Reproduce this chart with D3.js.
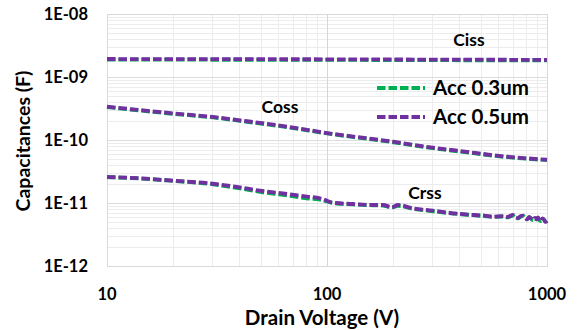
<!DOCTYPE html>
<html>
<head>
<meta charset="utf-8">
<script src="https://cdn.jsdelivr.net/npm/d3@7"></script>
<style>
  body { margin: 0; background: #fff; }
  text { font-family: Lato, "Open Sans", sans-serif; font-weight: bold; fill: #000; }
</style>
</head>
<body>
<div id="chart"></div>
<script>
// drain voltage points (V) for each curve
var cissV = [10, 30, 100, 300, 1000];
var ciss03 = [1.89e-9, 1.88e-9, 1.87e-9, 1.85e-9, 1.83e-9];
var ciss05 = [1.93e-9, 1.92e-9, 1.91e-9, 1.89e-9, 1.87e-9];

var cossV = [10, 20, 30.3, 40.2, 65.8, 100, 200, 303, 402, 658, 1000];
var coss03 = [3.33e-10, 2.6e-10, 2.28e-10, 2.01e-10, 1.6e-10, 1.27e-10, 9.2e-11, 7.4e-11, 6.55e-11, 5.35e-11, 4.8e-11];
var coss05 = [3.38e-10, 2.65e-10, 2.32e-10, 2.05e-10, 1.63e-10, 1.29e-10, 9.4e-11, 7.55e-11, 6.69e-11, 5.43e-11, 4.87e-11];

var crssV = [10, 14.1, 20, 30.3, 40.2, 49.6, 65.8, 81.1, 92.9, 106.5, 131, 162, 180, 197, 210, 246, 303, 374, 461, 520, 569, 631, 660, 700, 720, 740, 760, 780, 800, 811, 830, 850, 865, 880, 895, 910, 925, 940, 955, 970, 985, 1000];
var crss03 = [2.57e-11, 2.45e-11, 2.24e-11, 1.98e-11, 1.7e-11, 1.5e-11, 1.32e-11, 1.18e-11, 1.13e-11, 1.0e-11, 9.5e-12, 9.2e-12, 9.1e-12, 8.5e-12, 9.0e-12, 8.1e-12, 7.4e-12, 6.8e-12, 6.4e-12, 6.2e-12, 6.0e-12, 6.1e-12, 5.9e-12, 6.3e-12, 5.8e-12, 5.7e-12, 6.1e-12, 6.2e-12, 5.6e-12, 5.5e-12, 5.9e-12, 5.6e-12, 5.3e-12, 5.7e-12, 5.5e-12, 5.8e-12, 5.3e-12, 5.2e-12, 5.6e-12, 5.4e-12, 5.1e-12, 5.2e-12];
var crss05 = [2.59e-11, 2.47e-11, 2.26e-11, 2.02e-11, 1.77e-11, 1.57e-11, 1.39e-11, 1.26e-11, 1.19e-11, 1.01e-11, 9.64e-12, 9.3e-12, 9.3e-12, 8.55e-12, 9.3e-12, 8.24e-12, 7.55e-12, 6.87e-12, 6.45e-12, 6.3e-12, 6.06e-12, 6.2e-12, 6.0e-12, 6.45e-12, 5.9e-12, 5.8e-12, 6.2e-12, 6.3e-12, 5.7e-12, 5.5e-12, 6.0e-12, 5.6e-12, 5.4e-12, 5.8e-12, 5.5e-12, 5.9e-12, 5.3e-12, 5.2e-12, 5.7e-12, 5.4e-12, 5.0e-12, 5.24e-12];

var xTicks = [10, 100, 1000];
var yTicks = [1e-12, 1e-11, 1e-10, 1e-9, 1e-8];
var yTickLabels = ["1E-12", "1E-11", "1E-10", "1E-09", "1E-08"];
var seriesNames = ["Acc 0.3um", "Acc 0.5um"];
var seriesColors = ["#00b050", "#7030a0"];
var curveNames = ["Ciss", "Coss", "Crss"];

var W = 579, H = 330;
var margin = {left: 107, top: 14, right: 32, bottom: 64};
var w = W - margin.left - margin.right,
    h = H - margin.top - margin.bottom;

var svg = d3.select("#chart").append("svg")
  .attr("width", W).attr("height", H);

var x = d3.scaleLog().domain([10, 1000]).range([0, w]);
var y = d3.scaleLog().domain([1e-12, 1e-8]).range([h, 0]);

var g = svg.append("g").attr("transform", "translate(" + margin.left + "," + margin.top + ")");

//minor grid values
function minorVals(lo, hi) {
  var out = [];
  for (var d = lo; d < hi; d *= 10) {
    for (var k = 2; k <= 9; k++) out.push(d * k);
  }
  return out;
}

g.selectAll(".hminor").data(minorVals(1e-12, 1e-8)).enter().append("line")
  .attr("x1", 0).attr("x2", w)
  .attr("y1", function(d){ return Math.round(y(d)) + 0.5; })
  .attr("y2", function(d){ return Math.round(y(d)) + 0.5; })
  .attr("stroke", "#ececec").attr("stroke-width", 1);

g.selectAll(".vminor").data(minorVals(10, 1000)).enter().append("line")
  .attr("y1", 0).attr("y2", h)
  .attr("x1", function(d){ return Math.round(x(d)) + 0.5; })
  .attr("x2", function(d){ return Math.round(x(d)) + 0.5; })
  .attr("stroke", "#ececec").attr("stroke-width", 1);

g.selectAll(".hmajor").data(yTicks).enter().append("line")
  .attr("x1", 0).attr("x2", w)
  .attr("y1", function(d){ return Math.round(y(d)) + 0.5; })
  .attr("y2", function(d){ return Math.round(y(d)) + 0.5; })
  .attr("stroke", "#dcdcdc").attr("stroke-width", 1);

g.selectAll(".vmajor").data(xTicks).enter().append("line")
  .attr("y1", 0).attr("y2", h)
  .attr("x1", function(d){ return Math.round(x(d)) + 0.5; })
  .attr("x2", function(d){ return Math.round(x(d)) + 0.5; })
  .attr("stroke", "#d6d6d6").attr("stroke-width", 1);

g.append("rect").attr("x", 0.5).attr("y", 0.5).attr("width", w).attr("height", h)
  .attr("fill", "none").attr("stroke", "#d9d9d9");

// tick labels
svg.selectAll(".ylab").data(yTicks).enter().append("text")
  .attr("x", 88).attr("y", function(d){ return margin.top + y(d); })
  .attr("dy", "0.36em").attr("text-anchor", "end")
  .style("font-size", "16.5px")
  .text(function(d, i){ return yTickLabels[i]; });

svg.selectAll(".xlab").data(xTicks).enter().append("text")
  .attr("x", function(d){ return margin.left + x(d); })
  .attr("y", 300).attr("text-anchor", "middle")
  .style("font-size", "16.5px")
  .text(function(d){ return d; });

svg.append("text").attr("x", 322).attr("y", 325).attr("text-anchor", "middle")
  .style("font-size", "20.5px").text("Drain Voltage (V)");

svg.append("text")
  .attr("transform", "translate(30,141) rotate(-90)")
  .attr("text-anchor", "middle")
  .style("font-size", "19.5px").text("Capacitances (F)");

// curves
var line = d3.line()
  .x(function(d){ return x(d[0]); })
  .y(function(d){ return y(d[1]); })
  .curve(d3.curveMonotoneX);

function zip(vs, cs) {
  return vs.map(function(v, i){ return [v, cs[i]]; });
}

var curves = [
  [zip(cissV, ciss03), zip(cissV, ciss05)],
  [zip(cossV, coss03), zip(cossV, coss05)],
  [zip(crssV, crss03), zip(crssV, crss05)]
];

[0, 1].forEach(function(s){
  curves.forEach(function(c){
    g.append("path").datum(c[s])
      .attr("d", line)
      .attr("fill", "none")
      .attr("stroke", seriesColors[s])
      .attr("stroke-width", 3.8)
      .attr("stroke-dasharray", "8.5,3");
  });
});

// curve names
var nameX = [469, 280, 425];
var nameY = [46, 113, 199];
svg.selectAll(".cname").data(curveNames).enter().append("text")
  .attr("x", function(d, i){ return nameX[i]; })
  .attr("y", function(d, i){ return nameY[i]; })
  .attr("text-anchor", "middle")
  .style("font-size", "17.5px")
  .text(function(d){ return d; });

// legend
var legY = [88, 117];
seriesNames.forEach(function(name, i){
  svg.append("line")
    .attr("x1", 377).attr("x2", 425)
    .attr("y1", legY[i]).attr("y2", legY[i])
    .attr("stroke", seriesColors[i]).attr("stroke-width", 3.8)
    .attr("stroke-dasharray", "8.5,3");
  svg.append("text").attr("x", 433).attr("y", legY[i]).attr("dy", "0.36em")
    .style("font-size", "20.5px").text(name);
});
</script>
</body>
</html>
